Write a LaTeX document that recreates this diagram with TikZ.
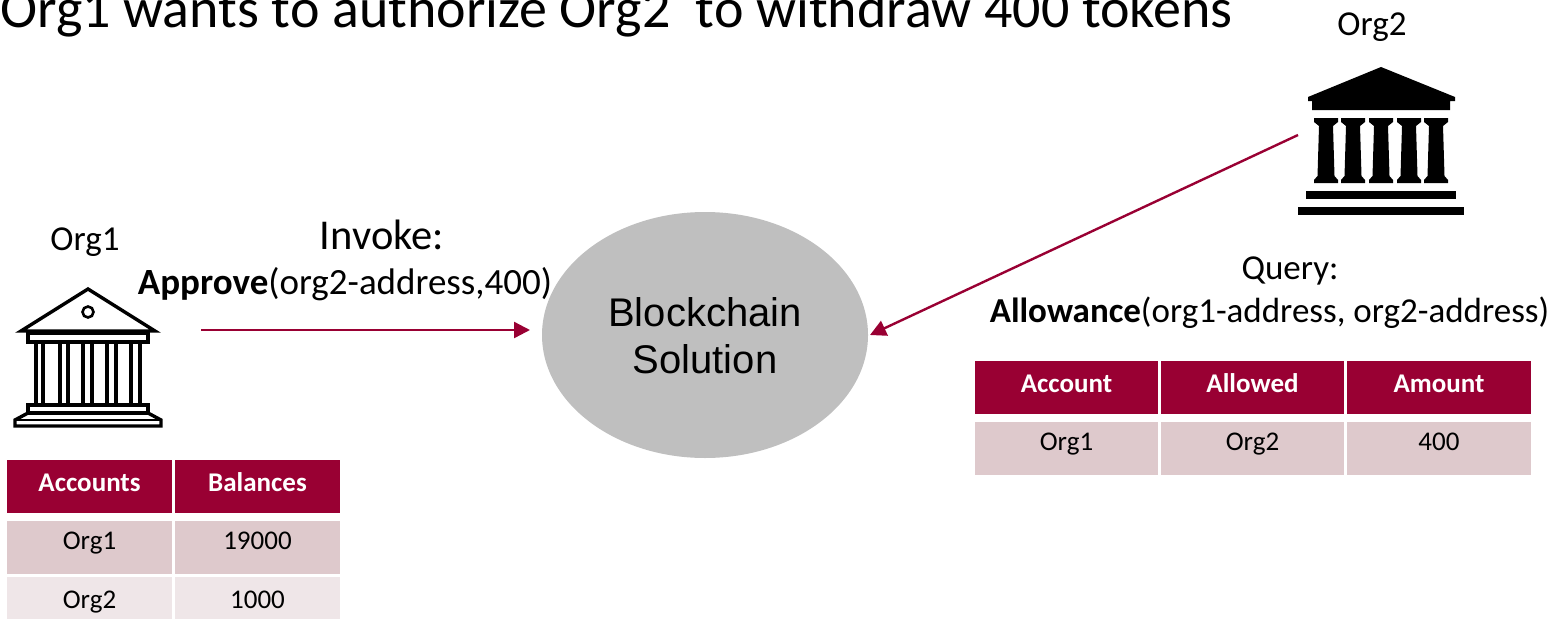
\documentclass[tikz,border=0pt]{standalone}
\usepackage{fontspec}
\setmainfont{Carlito}
\newfontfamily\arialfont{Liberation Sans}
\usetikzlibrary{arrows.meta,shapes.geometric}
\definecolor{crimson}{HTML}{990033}
\definecolor{rowdark}{HTML}{DEC9CC}
\definecolor{rowlight}{HTML}{EFE6E8}
\definecolor{chain}{HTML}{BFBFBF}
\tikzset{
    hdr/.style={rectangle, fill=crimson, text=white, inner sep=0pt, minimum height=53pt, text height=10pt, text depth=0pt, font=\fontsize{27}{32}\selectfont\bfseries},
    celldark/.style={rectangle, fill=rowdark, inner sep=0pt, minimum height=53pt, text height=4pt, text depth=0pt, font=\fontsize{27}{32}\selectfont},
    celllight/.style={celldark, fill=rowlight, text height=9pt},
    txt/.style={inner sep=0pt, font=\fontsize{35}{42}\selectfont},
    flow/.style={draw=crimson, line width=2.4pt, -{Triangle[length=16pt,width=16pt]}},
    temple/.style={draw=black, line width=3.4pt, miter limit=10}
}
\begin{document}
\begin{tikzpicture}[x=1pt,y=-1pt]
    \useasboundingbox (0,0) rectangle (1549,618);
    % heading
    \node [txt, anchor=base west, font=\fontsize{56}{64}\selectfont] (title) at (0,27.5) {Org1 wants to authorize Org2\ \ to withdraw 400 tokens};
    % blockchain
    \node [ellipse, fill=chain, minimum width=326pt, minimum height=246pt, inner sep=0pt] (chain) at (705,335) {};
    \node [inner sep=0pt, align=center, font=\arialfont\fontsize{40}{47}\selectfont] (chainlabel) at (705,336) {Blockchain\\Solution};
    % org1
    \node [txt] (org1) at (85,242) {Org1};
    \node [txt, font=\fontsize{42.5}{50}\selectfont] (invoke) at (382,235) {Invoke:};
    \node [txt, font=\fontsize{37}{44}\selectfont] (approve) at (345,284) {\textbf{Approve}(org2-address,400)};
    \draw [temple, line join=miter] (21,331) -- (88,289) -- (155,331) -- cycle;
    \draw [temple, line width=2.6pt] (88,312) circle (5.5pt);
    \draw [temple] (28,333) rectangle (148,342);
    \foreach \colx in {36,43,60,68,83,92,107,116,131,140}
        \draw [temple] (\colx,342) -- (\colx,405);
    \draw [temple] (28,405) rectangle (148,413);
    \draw [temple] (28,413) -- (15,420) -- (15,426) -- (161,426) -- (161,420) -- (148,413);
    \draw [temple, line width=2.6pt] (15,420) -- (161,420);
    % org2
    \node [txt] (org2) at (1372,27) {Org2};
    \fill (1381,67) -- (1308,97) -- (1308,101) -- (1312,101) -- (1312,110) -- (1450,110) -- (1450,101) -- (1455,101) -- (1455,97) -- cycle;
    \foreach \colx in {1326,1353,1381,1409,1436}
        \fill (\colx-12,118) -- (\colx+12,118) -- (\colx+12,122) -- (\colx+7,126) -- (\colx+8.5,176) -- (\colx+12,180) -- (\colx+12,183) -- (\colx-12,183) -- (\colx-12,180) -- (\colx-8.5,176) -- (\colx-7,126) -- (\colx-12,122) -- cycle;
    \fill (1306,191) rectangle (1456,199);
    \fill (1298,207) rectangle (1464,215);
    \node [txt] (query) at (1290,271) {Query:};
    \node [txt] (allowance) at (1269.5,313) {\textbf{Allowance}(org1-address, org2-address)};
    % arrows
    \coordinate (approveend) at (201,330);
    \coordinate (approvetip) at (530,330);
    \coordinate (queryend) at (1298,135);
    \coordinate (querytip) at (870,335);
    \draw [flow] (approveend) -- (approvetip);
    \draw [flow] (queryend) -- (querytip);
    % balances
    \node [hdr, minimum width=165pt] (accounts) at (89.5,486.5) {Accounts};
    \node [hdr, minimum width=165pt] (balances) at (257.5,486.5) {Balances};
    \node [celldark, minimum width=165pt] (org1name) at (89.5,547.5) {Org1};
    \node [celldark, minimum width=165pt] (org1bal) at (257.5,547.5) {19000};
    \node [celllight, minimum width=165pt] (org2name) at (89.5,603.5) {Org2};
    \node [celllight, minimum width=165pt] (org2bal) at (257.5,603.5) {1000};
    % allowance
    \node [hdr, minimum width=183pt] (account) at (1066.5,387.5) {Account};
    \node [hdr, minimum width=183pt] (allowed) at (1252.5,387.5) {Allowed};
    \node [hdr, minimum width=184pt] (amount) at (1439,387.5) {Amount};
    \node [celldark, minimum width=183pt] (accountval) at (1066.5,448.5) {Org1};
    \node [celldark, minimum width=183pt] (allowedval) at (1252.5,448.5) {Org2};
    \node [celldark, minimum width=184pt] (amountval) at (1439,448.5) {400};
\end{tikzpicture}
\end{document}
